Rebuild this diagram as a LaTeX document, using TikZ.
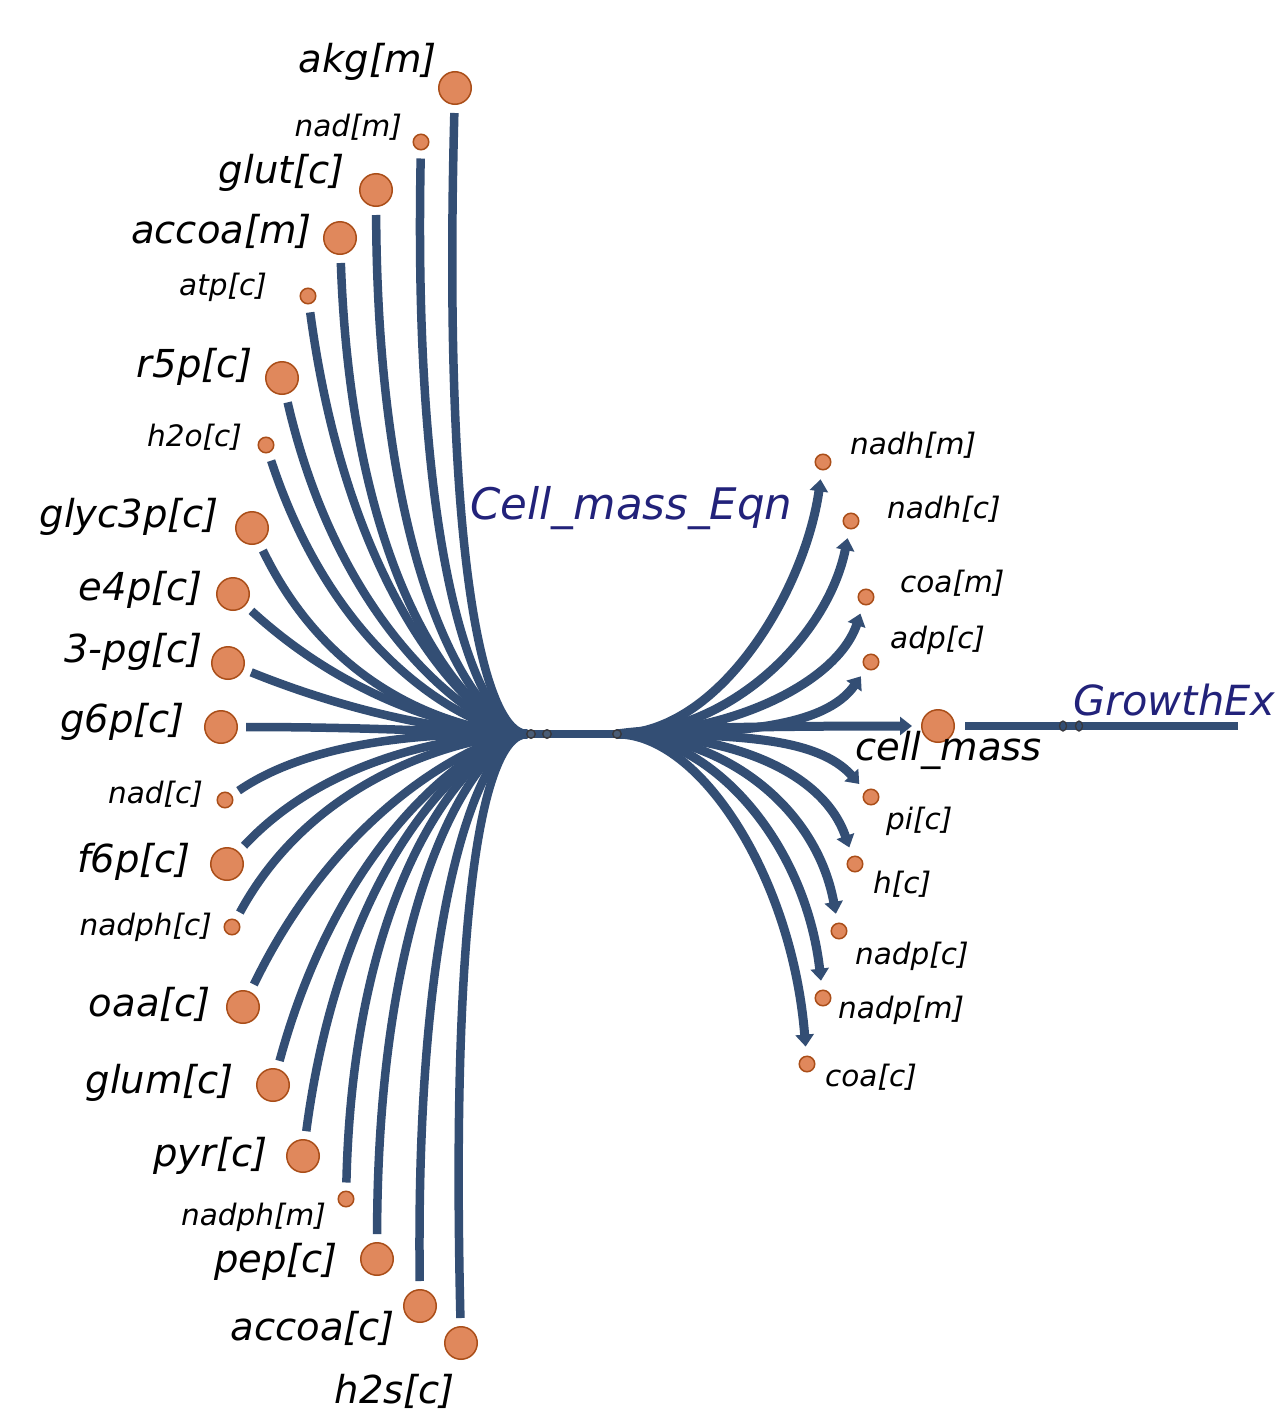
\documentclass[tikz,border=0pt]{standalone}
\usepackage{fontspec}
\setmainfont{DejaVu Sans}
\usetikzlibrary{arrows.meta,shapes.geometric}
\definecolor{edgeblue}{RGB}{51,78,116}
\definecolor{metfill}{RGB}{224,136,92}
\definecolor{metline}{RGB}{170,78,25}
\definecolor{rxnlabel}{RGB}{34,34,122}
\definecolor{markerline}{RGB}{55,55,60}
\begin{document}
\begin{tikzpicture}[x=1pt,y=-1pt,
  met/.style={circle,draw=metline,fill=metfill,line width=1.5pt,inner sep=0pt},
  metbig/.style={met,minimum size=32.5pt},
  metsmall/.style={met,minimum size=15.5pt},
  lbl/.style={inner sep=0pt,text=black},
  lblbig/.style={lbl,font=\fontsize{38.5}{46}\selectfont\itshape},
  lblsmall/.style={lbl,font=\fontsize{29.5}{35}\selectfont\itshape},
  rxnlbl/.style={inner sep=0pt,text=rxnlabel,font=\fontsize{43.5}{52}\selectfont\itshape},
  flux/.style={draw=edgeblue,line width=8.5pt},
  inflow/.style={flux,shorten <=8pt},
  outflow/.style={flux,line width=9pt,shorten >=9pt,-{Triangle[length=12pt,width=18pt]}},
  marker/.style={circle,draw=markerline,fill=edgeblue!70!gray,line width=1.4pt,inner sep=0pt,minimum size=8.5pt},
  gmarker/.style={ellipse,draw=markerline,fill=edgeblue,line width=1.3pt,inner sep=0pt,minimum width=7pt,minimum height=10pt},
]
\path[use as bounding box,fill=white] (0,0) rectangle (1280,1416);
\clip (0,0) rectangle (1280,1416);

% reaction junctions
\coordinate (J1) at (527,734);
\coordinate (J2) at (617,734);
\coordinate (gEnd) at (1238,726);

% substrates
\node[metbig]   (akgm)    at (455,88)   {};
\node[metsmall] (nadm)    at (421,142)  {};
\node[metbig]   (glutc)   at (376,190)  {};
\node[metbig]   (accoam)  at (340,238)  {};
\node[metsmall] (atpc)    at (308,296)  {};
\node[metbig]   (r5pc)    at (282,378)  {};
\node[metsmall] (h2oc)    at (266,445)  {};
\node[metbig]   (glyc3pc) at (252,528)  {};
\node[metbig]   (e4pc)    at (233,594)  {};
\node[metbig]   (pg3c)    at (228,663)  {};
\node[metbig]   (g6pc)    at (221,727)  {};
\node[metsmall] (nadc)    at (225,800)  {};
\node[metbig]   (f6pc)    at (227,864)  {};
\node[metsmall] (nadphc)  at (232,927)  {};
\node[metbig]   (oaac)    at (243,1007) {};
\node[metbig]   (glumc)   at (273,1085) {};
\node[metbig]   (pyrc)    at (303,1156) {};
\node[metsmall] (nadphm)  at (346,1199) {};
\node[metbig]   (pepc)    at (377,1259) {};
\node[metbig]   (accoac)  at (420,1306) {};
\node[metbig]   (h2sc)    at (461,1343) {};

% products
\node[metsmall] (nadhm)   at (823,462)  {};
\node[metsmall] (nadhc)   at (851,521)  {};
\node[metsmall] (coam)    at (866,597)  {};
\node[metsmall] (adpc)    at (871,662)  {};
\node[metbig]   (cellmass) at (938,726) {};
\node[metsmall] (pic)     at (871,797)  {};
\node[metsmall] (hc)      at (855,864)  {};
\node[metsmall] (nadpc)   at (839,931)  {};
\node[metsmall] (nadpm)   at (823,998)  {};
\node[metsmall] (coac)    at (807,1064) {};

% substrate labels
\node[lblbig,anchor=east]   at (437,62)   {akg[m]};
\node[lblsmall,anchor=east] at (402,127)  {nad[m]};
\node[lblbig,anchor=east]   at (345,173)  {glut[c]};
\node[lblbig,anchor=east]   at (312,231)  {accoa[m]};
\node[lblsmall,anchor=east] at (267,287)  {atp[c]};
\node[lblbig,anchor=east]   at (253,367)  {r5p[c]};
\node[lblsmall,anchor=east] at (242,437)  {h2o[c]};
\node[lblbig,anchor=east]   at (219,517)  {glyc3p[c]};
\node[lblbig,anchor=east]   at (203,590)  {e4p[c]};
\node[lblbig,anchor=east]   at (203,652)  {3-pg[c]};
\node[lblbig,anchor=east]   at (185,722)  {g6p[c]};
\node[lblsmall,anchor=east] at (203,794)  {nad[c]};
\node[lblbig,anchor=east]   at (191,862)  {f6p[c]};
\node[lblsmall,anchor=east] at (212,927)  {nadph[c]};
\node[lblbig,anchor=east]   at (211,1004) {oaa[c]};
\node[lblbig,anchor=east]   at (234,1083) {glum[c]};
\node[lblbig,anchor=east]   at (268,1156) {pyr[c]};
\node[lblsmall,anchor=east] at (326,1217) {nadph[m]};
\node[lblbig,anchor=east]   at (338,1262) {pep[c]};
\node[lblbig,anchor=east]   at (395,1328) {accoa[c]};
\node[lblbig,anchor=east]   at (455,1391) {h2s[c]};

% product labels
\node[lblsmall,anchor=west] at (850,445)  {nadh[m]};
\node[lblsmall,anchor=west] at (887,509)  {nadh[c]};
\node[lblsmall,anchor=west] at (900,583)  {coa[m]};
\node[lblsmall,anchor=west] at (890,640)  {adp[c]};
\node[lblbig,anchor=west]   at (855,750)  {cell\_mass};
\node[lblsmall,anchor=west] at (886,821)  {pi[c]};
\node[lblsmall,anchor=west] at (873,884)  {h[c]};
\node[lblsmall,anchor=west] at (855,956)  {nadp[c]};
\node[lblsmall,anchor=west] at (838,1010) {nadp[m]};
\node[lblsmall,anchor=west] at (825,1077) {coa[c]};

% reaction labels
\node[rxnlbl] at (631.5,508) {Cell\_mass\_Eqn};
\node[rxnlbl,anchor=west,font=\fontsize{41.5}{50}\selectfont\itshape] at (1073,700) {GrowthEx};

% substrate branches into the first junction
\draw[inflow] (akgm)    .. controls (442,580) and (487,734) .. (J1);
\draw[inflow] (nadm)    .. controls (412,598) and (487,734) .. (J1);
\draw[inflow] (glutc)   .. controls (378,604) and (487,734) .. (J1);
\draw[inflow] (accoam)  .. controls (353,617) and (487,734) .. (J1);
\draw[inflow] (atpc)    .. controls (351,617) and (487,734) .. (J1);
\draw[inflow] (r5pc)    .. controls (343,642) and (487,734) .. (J1);
\draw[inflow] (h2oc)    .. controls (342,676) and (487,734) .. (J1);
\draw[inflow] (glyc3pc) .. controls (341,712) and (487,734) .. (J1);
\draw[inflow] (e4pc)    .. controls (364,714) and (487,734) .. (J1);
\draw[inflow] (pg3c)    .. controls (382,725) and (487,734) .. (J1);
\draw[inflow] (g6pc)    .. controls (386,727) and (487,734) .. (J1);
\draw[inflow] (nadc)    .. controls (330,728) and (487,734) .. (J1);
\draw[inflow] (f6pc)    .. controls (338,745) and (487,734) .. (J1);
\draw[inflow] (nadphc)  .. controls (321,763) and (487,734) .. (J1);
\draw[inflow] (oaac)    .. controls (343,800) and (487,734) .. (J1);
\draw[inflow] (glumc)   .. controls (344,824) and (487,734) .. (J1);
\draw[inflow] (pyrc)    .. controls (345,838) and (487,734) .. (J1);
\draw[inflow] (nadphm)  .. controls (354,854) and (487,734) .. (J1);
\draw[inflow] (pepc)    .. controls (378,868) and (487,734) .. (J1);
\draw[inflow] (accoac)  .. controls (415,879) and (487,734) .. (J1);
\draw[inflow] (h2sc)    .. controls (450,877) and (487,734) .. (J1);

% reaction axis
\draw[flux] (J1) -- (J2);

% product branches out of the second junction
\draw[outflow] (J2) .. controls (720,734) and (805,590) .. (nadhm);
\draw[outflow] (J2) .. controls (730,734) and (828,636) .. (nadhc);
\draw[outflow] (J2) .. controls (730,734) and (837,683) .. (coam);
\draw[outflow] (J2) .. controls (740,734) and (825,727) .. (adpc);
\draw[outflow] (J2) .. controls (660,727) and (800,726) .. (cellmass);
\draw[outflow] (J2) .. controls (740,734) and (818,738) .. (pic);
\draw[outflow] (J2) .. controls (730,734) and (823,771) .. (hc);
\draw[outflow] (J2) .. controls (720,734) and (816,805) .. (nadpc);
\draw[outflow] (J2) .. controls (710,734) and (805,841) .. (nadpm);
\draw[outflow] (J2) .. controls (700,734) and (792,877) .. (coac);

% growth exchange
\draw[flux,shorten <=10pt] (cellmass) -- (gEnd);

% segment markers
\node[marker] (mk1) at (531,734) {};
\node[marker] (mk2) at (547,734) {};
\node[marker] (mk3) at (617,734) {};
\node[gmarker] (gm1) at (1063,726) {};
\node[gmarker] (gm2) at (1079,726) {};
\end{tikzpicture}
\end{document}
